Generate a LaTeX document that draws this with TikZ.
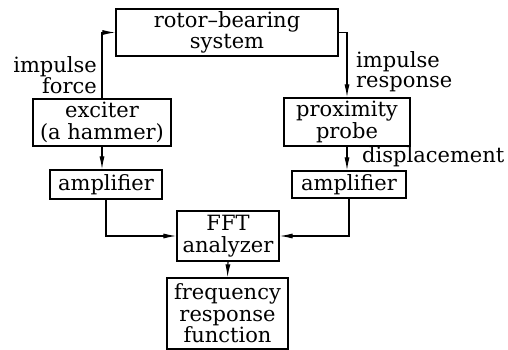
\documentclass[tikz,border=0pt]{standalone}
\usepackage{fontspec}
\setmainfont{DejaVu Serif}
\usetikzlibrary{arrows.meta}
\begin{document}
\begin{tikzpicture}[x=1pt,y=-1pt,
  box/.style={draw,line width=1.2pt,inner sep=0pt,align=center,
    font=\fontsize{21}{21.5}\selectfont},
  lbl/.style={inner sep=0pt,font=\fontsize{21}{20}\selectfont},
  conn/.style={line width=1.1pt,-{Latex[length=13pt,width=5pt]}}]
\useasboundingbox (0,0) rectangle (508,350);
% blocks
\node[box,minimum width=222pt,minimum height=47pt] (rotor) at (227,32.5) {rotor--bearing\\system};
\node[box,minimum width=138pt,minimum height=47pt] (exciter) at (102,122.5) {exciter\\(a hammer)};
\node[box,minimum width=112pt,minimum height=29pt] (ampL) at (106,184.5) {amplifier};
\node[box,minimum width=126pt,minimum height=48pt] (probe) at (347,122) {proximity\\probe};
\node[box,minimum width=114pt,minimum height=27pt] (ampR) at (349,184.5) {amplifier};
\node[box,minimum width=102pt,minimum height=50pt] (fft) at (228,236) {FFT\\analyzer};
\node[box,minimum width=121pt,minimum height=71pt] (frf) at (227.5,313.5) {frequency\\response\\function};
% signal labels
\node[lbl,align=right,anchor=east] (force) at (97,75) {impulse\\force};
\node[lbl,align=left,anchor=west] (resp) at (356,72) {impulse\\response};
\node[lbl,anchor=west] (disp) at (362,157) {displacement};
% signal paths
\draw[conn] (exciter.north) |- (rotor.west);
\draw[conn] (rotor.east) -| (probe.north);
\draw[conn] (exciter.south) -- (exciter.south |- ampL.north);
\draw[conn] (probe.south) -- (probe.south |- ampR.north);
\draw[conn] (ampL.south) |- (fft.west);
\draw[conn] (ampR.south) |- (fft.east);
\draw[conn] (fft.south) -- (frf.north);
\end{tikzpicture}
\end{document}
